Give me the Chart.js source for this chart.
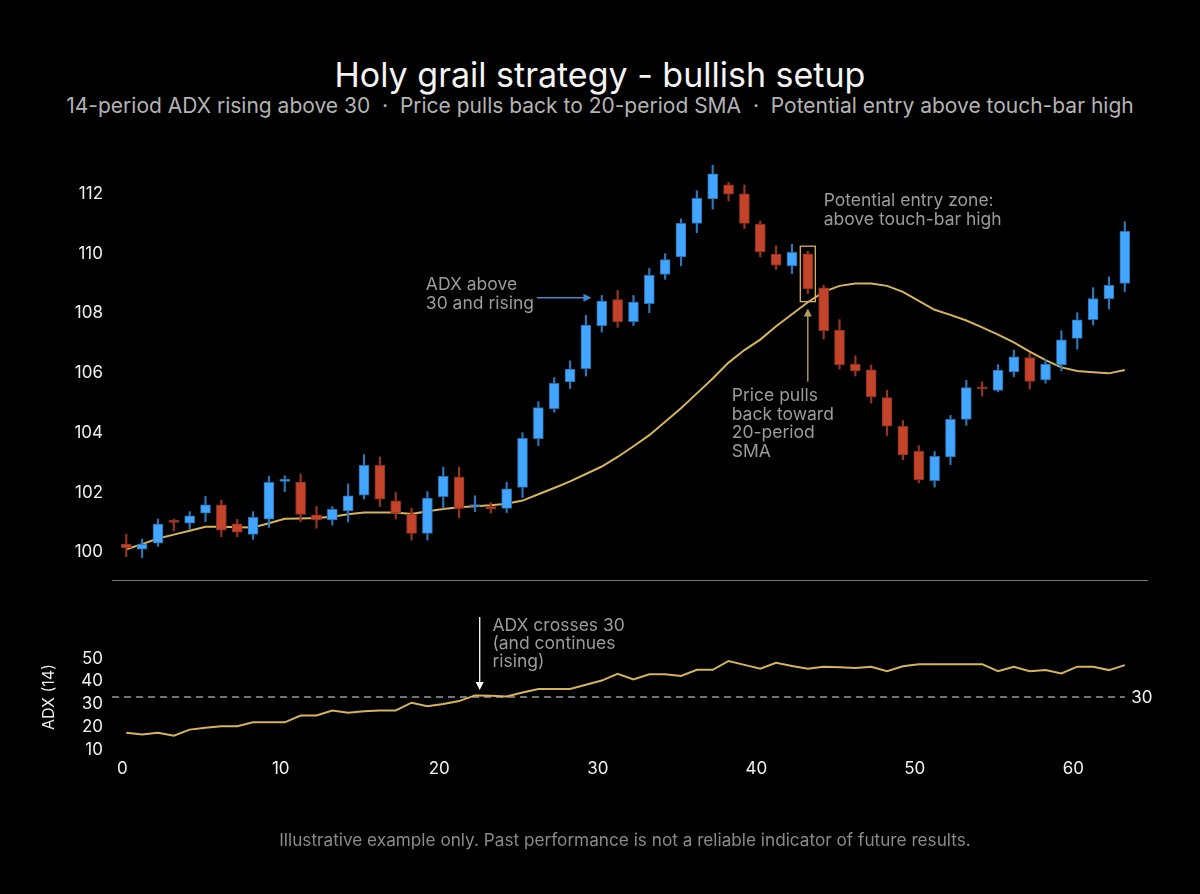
<!DOCTYPE html>
<html>
<head>
<meta charset="utf-8">
<script src="https://cdn.jsdelivr.net/npm/chart.js@4.4.1/dist/chart.umd.min.js"></script>
<style>
  html, body { margin: 0; padding: 0; background: #000; }
  #wrap { position: relative; width: 1200px; height: 894px; background: #000; font-family: Inter, sans-serif; }
  canvas { position: absolute; left: 0; top: 0; }
  .txt { position: absolute; left: 0; width: 1200px; text-align: center; white-space: nowrap; }
  #title { top: 54px; font-size: 34px; color: #f4f4f4; }
  #subtitle { top: 93px; font-size: 21px; color: #b4b4b4; }
  #note { top: 829px; left: 25px; font-size: 17.2px; color: #8a8a8a; }
</style>
</head>
<body>
<div id="wrap">
  <div id="title" class="txt">Holy grail strategy - bullish setup</div>
  <div id="subtitle" class="txt">14-period ADX rising above 30 &nbsp;·&nbsp; Price pulls back to 20-period SMA &nbsp;·&nbsp; Potential entry above touch-bar high</div>
  <canvas id="price" width="1200" height="894"></canvas>
  <canvas id="adx" width="1200" height="894"></canvas>
  <div id="note" class="txt">Illustrative example only. Past performance is not a reliable indicator of future results.</div>
</div>
<script>
// candle data, one entry per bar (index 0..63)
const opens = [100.2, 100.03, 100.23, 100.98, 100.9, 101.24, 101.52, 100.88, 100.53, 101.04,
  102.3, 102.28, 101.18, 101.01, 101.31, 101.84, 102.84, 101.65, 101.21, 100.56,
  101.79, 102.45, 101.46, 101.46, 101.4, 102.1, 103.73, 104.74, 105.63, 106.08,
  107.52, 108.39, 107.65, 108.25, 109.23, 109.82, 110.94, 111.76, 112.23, 111.93,
  110.91, 109.91, 109.52, 109.92, 108.78, 107.37, 106.23, 106.04, 105.11, 104.15,
  103.31, 102.33, 103.12, 104.38, 105.45, 105.35, 105.97, 106.45, 105.7, 106.2,
  107.09, 107.72, 108.42, 108.93];
const highs = [100.53, 100.37, 101.04, 101.04, 101.29, 101.8, 101.68, 101.03, 101.29, 102.47,
  102.49, 102.55, 101.46, 101.46, 102.22, 103.2, 103.12, 101.93, 101.4, 101.96,
  102.78, 102.78, 101.82, 101.59, 102.27, 103.93, 104.97, 105.78, 106.34, 107.86,
  108.53, 108.7, 108.53, 109.43, 109.93, 111.09, 112.04, 112.89, 112.32, 112.23,
  111.02, 110.19, 110.24, 110.01, 108.87, 107.72, 106.51, 106.2, 105.36, 104.34,
  103.5, 103.3, 104.51, 105.69, 105.64, 106.21, 106.7, 106.59, 106.4, 107.35,
  107.95, 108.79, 109.15, 111.0];
const lows = [99.78, 99.75, 100.13, 100.64, 100.7, 100.95, 100.45, 100.45, 100.36, 100.76,
  101.96, 100.95, 100.73, 100.84, 100.94, 101.71, 101.46, 101.04, 100.34, 100.34,
  101.4, 101.09, 101.29, 101.24, 101.26, 101.76, 103.5, 104.62, 105.41, 105.83,
  107.3, 107.46, 107.52, 107.95, 109.07, 109.52, 110.63, 111.42, 111.69, 110.77,
  109.82, 109.4, 109.26, 108.59, 107.07, 106.06, 105.83, 104.92, 103.84, 103.03,
  102.25, 102.11, 102.86, 104.18, 105.16, 105.3, 105.81, 105.39, 105.59, 106.0,
  106.73, 107.54, 108.08, 108.66];
const closes = [100.08, 100.2, 100.87, 100.93, 101.15, 101.52, 100.67, 100.6, 101.1, 102.27,
  102.37, 101.2, 101.01, 101.37, 101.82, 102.84, 101.71, 101.24, 100.56, 101.74,
  102.47, 101.4, 101.5, 101.38, 102.05, 103.74, 104.77, 105.59, 106.06, 107.54,
  108.34, 107.65, 108.31, 109.2, 109.73, 110.94, 111.78, 112.6, 111.92, 110.94,
  109.99, 109.54, 109.97, 108.75, 107.35, 106.21, 106.0, 105.13, 104.15, 103.19,
  102.36, 103.14, 104.38, 105.44, 105.4, 106.03, 106.47, 105.65, 106.23, 107.04,
  107.71, 108.42, 108.87, 110.68];
// 20-period SMA as drawn
const sma20 = [100.03, 100.2, 100.39, 100.52, 100.65, 100.78, 100.78, 100.77, 100.76, 100.9,
  101.05, 101.06, 101.08, 101.12, 101.2, 101.26, 101.26, 101.26, 101.21, 101.3,
  101.38, 101.44, 101.47, 101.5, 101.55, 101.66, 101.87, 102.08, 102.3, 102.55,
  102.8, 103.12, 103.48, 103.85, 104.3, 104.75, 105.25, 105.75, 106.28, 106.7,
  107.05, 107.5, 107.9, 108.3, 108.65, 108.85, 108.93, 108.93, 108.85, 108.65,
  108.35, 108.05, 107.88, 107.69, 107.46, 107.22, 106.96, 106.65, 106.36, 106.12,
  106.0, 105.96, 105.92, 106.03];
// 14-period ADX
const adx14 = [14.3, 13.6, 14.3, 13.0, 15.7, 16.5, 17.2, 17.2, 18.9, 18.9,
  18.9, 21.9, 21.9, 24.1, 23.1, 23.8, 24.1, 24.1, 27.5, 26.0,
  26.9, 28.2, 30.7, 30.5, 30.2, 32.0, 33.5, 33.5, 33.5, 35.4,
  37.2, 40.2, 37.7, 40.0, 40.0, 39.2, 41.9, 41.9, 45.8, 44.1,
  42.4, 45.0, 43.6, 42.4, 43.3, 43.0, 42.7, 43.3, 41.3, 43.5,
  44.4, 44.4, 44.4, 44.4, 44.4, 41.3, 43.3, 41.3, 41.8, 40.3,
  43.3, 43.3, 41.8, 44.0];
const adxThreshold = 30;
const priceTicks = [100, 102, 104, 106, 108, 110, 112];
const adxTicks = [10, 20, 30, 40, 50];
const xTicks = [0, 10, 20, 30, 40, 50, 60];
const touchBar = 43;

const idx = closes.map((_, i) => i);
const X_MIN = -0.9, X_MAX = 64.4;

const gold = "#d6b45e";
const upFill = "#42a5ff", upEdge = "#2b6da8", upWick = "#2e77b6";
const dnFill = "#c4432b", dnEdge = "#8e301f", dnWick = "#97351f";
const isUp = idx.map(i => closes[i] >= opens[i]);

Chart.defaults.font.family = "Inter, sans-serif";
Chart.defaults.color = "#f0f0f0";

function arrow(ctx, x1, y1, x2, y2, color, width) {
  const a = Math.atan2(y2 - y1, x2 - x1);
  const h = 8;
  ctx.save();
  ctx.strokeStyle = color;
  ctx.fillStyle = color;
  ctx.lineWidth = width;
  ctx.beginPath();
  ctx.moveTo(x1, y1);
  ctx.lineTo(x2 - Math.cos(a) * h * 0.8, y2 - Math.sin(a) * h * 0.8);
  ctx.stroke();
  ctx.beginPath();
  ctx.moveTo(x2, y2);
  ctx.lineTo(x2 - h * Math.cos(a) + 4 * Math.sin(a), y2 - h * Math.sin(a) - 4 * Math.cos(a));
  ctx.lineTo(x2 - h * Math.cos(a) - 4 * Math.sin(a), y2 - h * Math.sin(a) + 4 * Math.cos(a));
  ctx.closePath();
  ctx.fill();
  ctx.restore();
}

function lines(ctx, textLines, x, y, step) {
  textLines.forEach((t, k) => ctx.fillText(t, x, y + k * step));
}

// annotations on the price panel
const priceNotes = {
  id: "priceNotes",
  afterDraw(chart) {
    const { ctx, scales: { x, y } } = chart;
    ctx.save();
    ctx.font = "17.5px Inter, sans-serif";
    ctx.fillStyle = "#9b9b9b";
    ctx.textBaseline = "middle";
    ctx.textAlign = "left";
    lines(ctx, ["ADX above", "30 and rising"], x.getPixelForValue(18.9), y.getPixelForValue(108.89), 19);
    arrow(ctx, x.getPixelForValue(25.9), y.getPixelForValue(108.45), x.getPixelForValue(29.35), y.getPixelForValue(108.45), "#3d8ad0", 1.4);
    lines(ctx, ["Potential entry zone:", "above touch-bar high"], x.getPixelForValue(44.0), y.getPixelForValue(111.71), 19);
    lines(ctx, ["Price pulls", "back toward", "20-period", "SMA"], x.getPixelForValue(38.2), y.getPixelForValue(105.17), 18.5);
    // touch bar box
    const cx = x.getPixelForValue(touchBar);
    const top = y.getPixelForValue(highs[touchBar]) - 5;
    const bot = y.getPixelForValue(lows[touchBar]) + 8;
    ctx.strokeStyle = gold;
    ctx.lineWidth = 1.3;
    ctx.strokeRect(cx - 7.5, top, 15, bot - top);
    arrow(ctx, cx, y.getPixelForValue(105.64), cx, y.getPixelForValue(108.09), "#b59b5e", 1.4);
    ctx.restore();
  }
};

new Chart(document.getElementById("price"), {
  type: "bar",
  data: {
    datasets: [
      {
        type: "line",
        label: "SMA 20",
        data: idx.map(i => ({ x: i, y: sma20[i] })),
        borderColor: gold,
        borderWidth: 2,
        pointRadius: 0,
        tension: 0,
        order: 3
      },
      {
        label: "wick",
        data: idx.map(i => ({ x: i, y: [lows[i], highs[i]] })),
        backgroundColor: idx.map(i => isUp[i] ? upWick : dnWick),
        barThickness: 1.5,
        grouped: false,
        order: 2
      },
      {
        label: "body",
        data: idx.map(i => ({ x: i, y: [opens[i], closes[i]] })),
        backgroundColor: idx.map(i => isUp[i] ? upFill : dnFill),
        borderColor: idx.map(i => isUp[i] ? upEdge : dnEdge),
        borderWidth: 1,
        borderSkipped: false,
        barThickness: 10,
        minBarLength: 2,
        grouped: false,
        order: 1
      }
    ]
  },
  options: {
    responsive: false,
    animation: false,
    events: [],
    layout: { padding: { top: 147, bottom: 314, left: 0, right: 53 } },
    plugins: { legend: { display: false }, tooltip: { enabled: false } },
    scales: {
      x: {
        type: "linear",
        min: X_MIN,
        max: X_MAX,
        offset: false,
        grid: { display: false, drawTicks: false },
        ticks: { display: false },
        border: { display: true, color: "#777777", width: 1 },
        afterFit(s) { s.height = 0; }
      },
      y: {
        min: 99,
        max: 113.5,
        grid: { display: false, drawTicks: false },
        border: { display: false },
        ticks: { color: "#f0f0f0", font: { size: 17 }, padding: 9, labelOffset: 2 },
        afterBuildTicks(s) { s.ticks = priceTicks.map(v => ({ value: v })); },
        afterFit(s) { s.width = 112; }
      }
    }
  },
  plugins: [priceNotes]
});

// annotations on the ADX panel
const adxNotes = {
  id: "adxNotes",
  afterDraw(chart) {
    const { ctx, scales: { x, y } } = chart;
    ctx.save();
    arrow(ctx, x.getPixelForValue(22.3), y.getPixelForValue(65.1), x.getPixelForValue(22.3), y.getPixelForValue(33.1), "#ffffff", 1.3);
    ctx.font = "17.5px Inter, sans-serif";
    ctx.textBaseline = "middle";
    ctx.textAlign = "left";
    ctx.fillStyle = "#9b9b9b";
    lines(ctx, ["ADX crosses 30", "(and continues", "rising)"], x.getPixelForValue(23.1), y.getPixelForValue(61.1), 18);
    ctx.fillStyle = "#f0f0f0";
    ctx.font = "17px Inter, sans-serif";
    ctx.fillText(String(adxThreshold), x.getPixelForValue(63.4), y.getPixelForValue(adxThreshold) + 1);
    ctx.restore();
  }
};

new Chart(document.getElementById("adx"), {
  type: "line",
  data: {
    datasets: [
      {
        label: "ADX (14)",
        data: idx.map(i => ({ x: i, y: adx14[i] })),
        borderColor: gold,
        borderWidth: 2,
        pointRadius: 0,
        tension: 0
      },
      {
        label: "threshold",
        data: [{ x: X_MIN, y: adxThreshold }, { x: idx[idx.length - 1], y: adxThreshold }],
        borderColor: "#e6e6e6",
        borderWidth: 1.2,
        borderDash: [7, 5],
        pointRadius: 0
      }
    ]
  },
  options: {
    responsive: false,
    animation: false,
    events: [],
    layout: { padding: { top: 640, bottom: 110, left: 36, right: 53 } },
    plugins: { legend: { display: false }, tooltip: { enabled: false } },
    scales: {
      x: {
        type: "linear",
        min: X_MIN,
        max: X_MAX,
        grid: { display: false, drawTicks: false },
        border: { display: false },
        ticks: { color: "#f0f0f0", font: { size: 17 }, padding: 5, labelOffset: -4 },
        afterBuildTicks(s) { s.ticks = xTicks.map(v => ({ value: v })); },
        afterFit(s) { s.height = 30; }
      },
      y: {
        min: 5,
        max: 55,
        grid: { display: false, drawTicks: false },
        border: { display: false },
        title: { display: true, text: "ADX (14)", color: "#f0f0f0", font: { size: 16 } },
        ticks: { color: "#f0f0f0", font: { size: 17 }, padding: 9, labelOffset: 7 },
        afterBuildTicks(s) { s.ticks = adxTicks.map(v => ({ value: v })); },
        afterFit(s) { s.width = 76; }
      }
    }
  },
  plugins: [adxNotes]
});
</script>
</body>
</html>
